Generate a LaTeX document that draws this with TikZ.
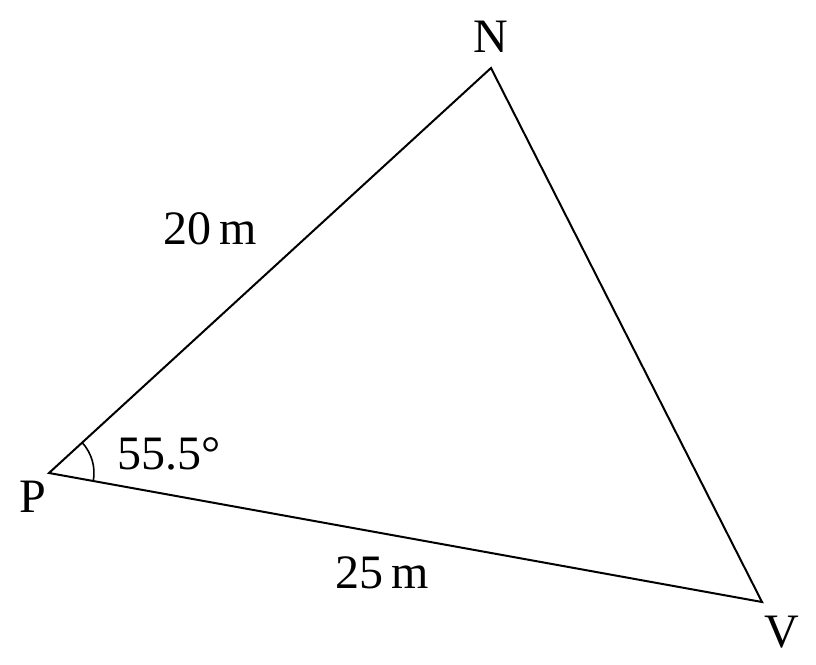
\documentclass[tikz,border=0pt]{standalone}
\usepackage{fontspec}
\setmainfont{Liberation Serif}
\usetikzlibrary{angles}
\begin{document}
\begin{tikzpicture}[x=1pt,y=1pt,
  edge/.style={line width=2pt},
  lbl/.style={font=\fontsize{48}{56}\selectfont, inner sep=0pt, anchor=base}]
\useasboundingbox (0,0) rectangle (816,664);
\coordinate (P) at (49,191);
\coordinate (N) at (491,596);
\coordinate (V) at (762,62);
\draw[edge] (P) -- (N) -- (V) -- cycle;
\pic[draw, line width=1.6pt, angle radius=45pt] {angle=V--P--N};
\node[lbl] (lP) at (33,151) {P};
\node[lbl] (lN) at (491,611) {N};
\node[lbl] (lV) at (782,17) {V};
\node[lbl, anchor=base west] (ang) at (117,194) {55.5°};
\node[lbl] (a) at (210.5,419) {20\,m};
\node[lbl] (b) at (382,76) {25\,m};
\end{tikzpicture}
\end{document}
